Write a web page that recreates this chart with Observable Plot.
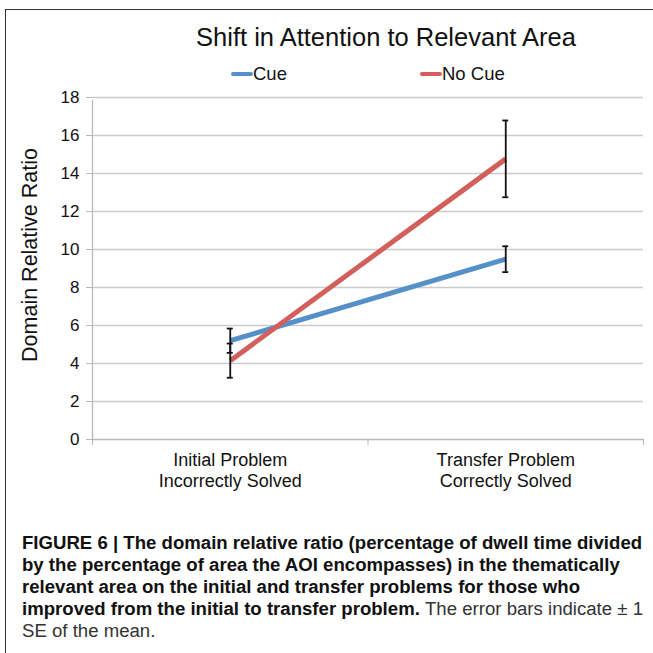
<!DOCTYPE html>
<html>
<head>
<meta charset="utf-8">
<script src="https://cdn.jsdelivr.net/npm/d3@7"></script>
<script src="https://cdn.jsdelivr.net/npm/@observablehq/plot@0.6"></script>
<style>
  html, body { margin: 0; padding: 0; background: #fff; }
  body { width: 653px; height: 653px; position: relative; overflow: hidden; font-family: "Liberation Sans", Arial, sans-serif; }
  #frame { position: absolute; left: 5px; top: 9px; right: -2px; bottom: -2px; border-left: 1.5px solid #333; border-top: 1.5px solid #333; }
  #title { position: absolute; left: 92px; width: 588px; top: 22px; text-align: center; font-size: 25.5px; line-height: 30px; color: #111; }
  #legend { position: absolute; top: 63px; left: 0; width: 653px; height: 22px; font-size: 18.5px; color: #111; }
  .lg { position: absolute; top: 0; display: flex; align-items: center; height: 22px; }
  .sw { width: 22px; height: 4px; border-radius: 2px; }
  #chart { position: absolute; left: 0; top: 85px; }
  #caption { position: absolute; left: 22px; top: 532px; font-family: "Liberation Sans", Arial, sans-serif; font-size: 18px; line-height: 22px; color: #111; transform-origin: 0 0; white-space: nowrap; }
  #caption .l { font-weight: bold; }
  #caption .n { color: #333; font-weight: normal; }
</style>
</head>
<body>
<div id="frame"></div>
<div id="title">Shift in Attention to Relevant Area</div>
<div id="legend"></div>
<div id="chart"></div>
<div id="caption">
  <div class="l">FIGURE 6 | The domain relative ratio (percentage of dwell time divided</div>
  <div class="l">by the percentage of area the AOI encompasses) in the thematically</div>
  <div class="l">relevant area on the initial and transfer problems for those who</div>
  <div class="l">improved from the initial to transfer problem. <span class="n">The error bars indicate ± 1</span></div>
  <div class="n">SE of the mean.</div>
</div>
<script>
// Data
const categories = ["Initial Problem\nIncorrectly Solved", "Transfer Problem\nCorrectly Solved"];
const seriesNames = ["Cue", "No Cue"];
const seriesColors = ["#5590c8", "#d25f5b"];
const cueValues = [5.2, 9.49];
const cueErrors = [0.64, 0.68];
const noCueValues = [4.15, 14.77];
const noCueErrors = [0.9, 2.02];
const yTicks = [0, 2, 4, 6, 8, 10, 12, 14, 16, 18];

const rows = [];
categories.forEach((c, i) => {
  rows.push({series: seriesNames[0], i, value: cueValues[i], err: cueErrors[i]});
  rows.push({series: seriesNames[1], i, value: noCueValues[i], err: noCueErrors[i]});
});
const boundaries = d3.range(categories.length + 1).map(k => k - 0.5);

// Legend
const legend = document.getElementById("legend");
const legendX = [231, 420];
seriesNames.forEach((s, k) => {
  const el = document.createElement("div");
  el.className = "lg";
  el.style.left = legendX[k] + "px";
  el.innerHTML = `<span class="sw" style="background:${seriesColors[k]}"></span><span>${s}</span>`;
  legend.appendChild(el);
});

const plot = Plot.plot({
  width: 653,
  height: 420,
  marginTop: 12,
  marginBottom: 66,
  marginLeft: 92,
  marginRight: 10,
  style: {fontFamily: "'Liberation Sans', Arial, sans-serif", fontSize: "16px", color: "#111", background: "transparent"},
  x: {type: "linear", domain: [-0.5, categories.length - 0.5]},
  y: {domain: [0, 18]},
  color: {domain: seriesNames, range: seriesColors},
  marks: [
    Plot.gridY(yTicks.filter(d => d > 0), {stroke: "#cccccc", strokeOpacity: 1, strokeWidth: 1.3}),
    Plot.ruleY([0], {stroke: "#b8b8b8", strokeWidth: 1.3}),
    Plot.ruleX([-0.5], {y1: 0, y2: 18, stroke: "#b8b8b8", strokeWidth: 1.3, insetBottom: -3}),
    Plot.axisY({ticks: yTicks, tickSize: 6, tickPadding: 7, stroke: "#b8b8b8", label: null, fontSize: 17}),
    Plot.axisX({ticks: boundaries, tickSize: 6, tickFormat: () => "", stroke: "#b8b8b8", label: null}),
    Plot.axisX({ticks: d3.range(categories.length), tickSize: 0, tickPadding: 11, tickFormat: i => categories[i], label: null, fontSize: 18, lineHeight: 1.2}),
    Plot.line(rows, {x: "i", y: "value", z: "series", stroke: "series", strokeWidth: 5, strokeLinecap: "butt"}),
    Plot.ruleX(rows, {x: "i", y1: d => d.value - d.err, y2: d => d.value + d.err, stroke: "#111", strokeWidth: 1.8}),
    Plot.ruleY(rows, {x1: "i", x2: "i", y: d => d.value - d.err, insetLeft: -3, insetRight: -3, stroke: "#111", strokeWidth: 1.8}),
    Plot.ruleY(rows, {x1: "i", x2: "i", y: d => d.value + d.err, insetLeft: -3, insetRight: -3, stroke: "#111", strokeWidth: 1.8})
  ],
  ariaLabel: "Domain Relative Ratio"
});
document.getElementById("chart").appendChild(plot);

// y-axis title as real text in the svg
d3.select(plot).append("text")
  .attr("transform", "translate(31,170) rotate(-90)")
  .attr("text-anchor", "middle")
  .attr("dominant-baseline", "middle")
  .attr("font-size", 21.5)
  .attr("fill", "#111")
  .text("Domain Relative Ratio");

// fit caption width (condensed look)
const cap = document.getElementById("caption");
const first = cap.querySelector(".l");
const w = first.getBoundingClientRect().width;
const s = 621 / w;
cap.style.transform = `scaleX(${s})`;
</script>
</body>
</html>
